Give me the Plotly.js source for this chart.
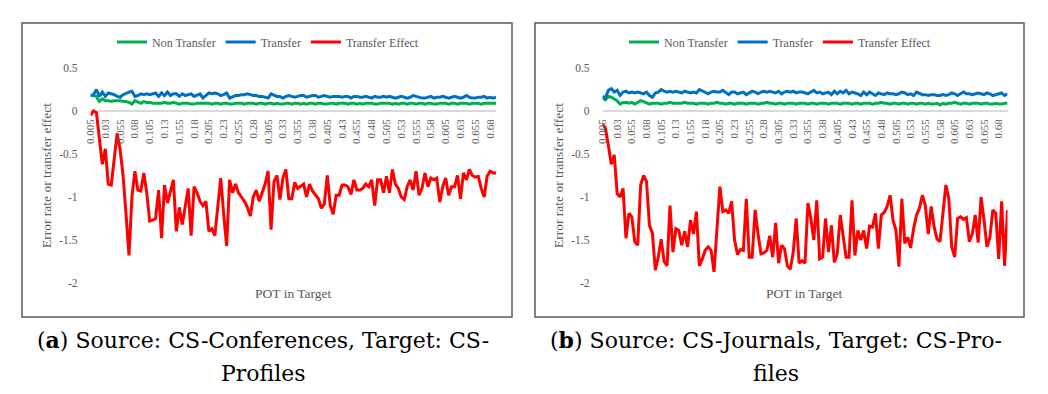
<!DOCTYPE html>
<html>
<head>
<meta charset="utf-8">
<script src="https://cdn.plot.ly/plotly-3.0.1.min.js"></script>
<style>html,body{margin:0;padding:0;background:#fff;}#chart{width:1048px;height:394px;}</style>
</head>
<body>
<div id="chart"></div>
<script>
// POT in Target categories
const potCategories = [
"0.005","0.01","0.015","0.02","0.025","0.03","0.035","0.04","0.045","0.05",
"0.055","0.06","0.065","0.07","0.075","0.08","0.085","0.09","0.095","0.1",
"0.105","0.11","0.115","0.12","0.125","0.13","0.135","0.14","0.145","0.15",
"0.155","0.16","0.165","0.17","0.175","0.18","0.185","0.19","0.195","0.2",
"0.205","0.21","0.215","0.22","0.225","0.23","0.235","0.24","0.245","0.25",
"0.255","0.26","0.265","0.27","0.275","0.28","0.285","0.29","0.295","0.3",
"0.305","0.31","0.315","0.32","0.325","0.33","0.335","0.34","0.345","0.35",
"0.355","0.36","0.365","0.37","0.375","0.38","0.385","0.39","0.395","0.4",
"0.405","0.41","0.415","0.42","0.425","0.43","0.435","0.44","0.445","0.45",
"0.455","0.46","0.465","0.47","0.475","0.48","0.485","0.49","0.495","0.5",
"0.505","0.51","0.515","0.52","0.525","0.53","0.535","0.54","0.545","0.55",
"0.555","0.56","0.565","0.57","0.575","0.58","0.585","0.59","0.595","0.6",
"0.605","0.61","0.615","0.62","0.625","0.63","0.635","0.64","0.645","0.65",
"0.655","0.66","0.665","0.67","0.675","0.68","0.685","0.69","0.695"];

// Panel (a): Source CS-Conferences, Target CS-Profiles
const aNonTransfer = [
0.18,0.18,0.17,0.11,0.14,0.12,0.12,0.11,0.12,0.12,
0.12,0.11,0.11,0.10,0.08,0.12,0.10,0.09,0.11,0.10,
0.10,0.09,0.09,0.09,0.09,0.10,0.09,0.09,0.10,0.09,
0.08,0.09,0.09,0.09,0.08,0.08,0.09,0.09,0.09,0.09,
0.09,0.08,0.09,0.09,0.08,0.09,0.09,0.08,0.08,0.09,
0.09,0.09,0.08,0.09,0.09,0.09,0.08,0.09,0.09,0.08,
0.09,0.09,0.08,0.09,0.08,0.08,0.09,0.09,0.08,0.09,
0.09,0.08,0.09,0.08,0.09,0.09,0.08,0.09,0.09,0.08,
0.08,0.09,0.09,0.08,0.09,0.09,0.09,0.08,0.09,0.09,
0.08,0.09,0.08,0.09,0.09,0.09,0.08,0.08,0.09,0.09,
0.09,0.09,0.08,0.09,0.08,0.09,0.09,0.08,0.09,0.09,
0.08,0.09,0.09,0.08,0.09,0.09,0.08,0.08,0.09,0.09,
0.09,0.08,0.09,0.09,0.08,0.09,0.09,0.09,0.08,0.09,
0.09,0.09,0.08,0.09,0.09,0.09,0.09,0.09];
const aTransfer = [
0.18,0.19,0.25,0.17,0.22,0.17,0.21,0.20,0.19,0.17,
0.16,0.19,0.21,0.22,0.23,0.17,0.18,0.20,0.19,0.20,
0.19,0.20,0.21,0.17,0.21,0.18,0.22,0.18,0.20,0.20,
0.17,0.20,0.18,0.19,0.20,0.17,0.19,0.20,0.15,0.18,
0.21,0.20,0.21,0.20,0.18,0.19,0.21,0.15,0.17,0.18,
0.18,0.19,0.19,0.20,0.19,0.18,0.18,0.17,0.17,0.16,
0.15,0.20,0.18,0.17,0.17,0.15,0.17,0.18,0.17,0.16,
0.17,0.18,0.18,0.16,0.17,0.18,0.18,0.16,0.17,0.18,
0.17,0.16,0.17,0.17,0.17,0.16,0.17,0.17,0.15,0.17,
0.17,0.16,0.16,0.17,0.16,0.15,0.17,0.16,0.16,0.17,
0.16,0.17,0.16,0.15,0.16,0.17,0.16,0.15,0.16,0.18,
0.17,0.16,0.15,0.15,0.16,0.17,0.15,0.16,0.16,0.17,
0.16,0.15,0.16,0.17,0.16,0.15,0.16,0.18,0.16,0.15,
0.15,0.16,0.16,0.17,0.15,0.16,0.15,0.16];
const aTransferEffect = [
-0.05,0.00,-0.02,-0.30,-0.62,-0.44,-0.85,-0.86,-0.55,-0.26,
-0.45,-0.75,-1.20,-1.68,-1.00,-0.70,-0.92,-0.93,-0.72,-0.95,
-1.28,-1.27,-1.25,-0.92,-1.48,-0.86,-1.07,-0.93,-0.80,-1.40,
-1.12,-1.32,-1.10,-0.90,-1.45,-0.88,-0.95,-1.05,-1.10,-1.05,
-1.40,-1.37,-1.45,-1.10,-0.78,-1.20,-1.57,-0.80,-0.95,-0.85,
-0.95,-1.00,-1.05,-1.12,-1.22,-1.00,-0.92,-1.05,-0.95,-0.85,
-0.70,-1.38,-0.82,-0.75,-1.03,-0.78,-0.68,-1.02,-1.02,-0.83,
-0.90,-0.87,-0.85,-1.00,-0.85,-0.93,-0.97,-1.02,-1.13,-1.08,
-0.75,-1.10,-1.20,-0.98,-0.98,-0.86,-0.86,-0.88,-0.97,-0.80,
-0.92,-0.92,-0.90,-0.85,-0.88,-0.80,-1.10,-0.80,-0.80,-0.95,
-0.76,-0.95,-0.68,-0.85,-0.90,-1.00,-1.03,-0.88,-0.80,-0.92,
-0.70,-0.98,-0.90,-0.72,-0.88,-0.78,-0.80,-0.78,-1.06,-0.88,
-0.78,-0.98,-0.88,-0.88,-0.75,-1.02,-0.72,-0.80,-0.68,-0.75,
-0.77,-0.76,-0.90,-1.00,-0.76,-0.70,-0.72,-0.72];

// Panel (b): Source CS-Journals, Target CS-Profiles
const bNonTransfer = [
0.15,0.13,0.17,0.16,0.14,0.12,0.08,0.10,0.10,0.09,
0.10,0.08,0.10,0.12,0.11,0.09,0.08,0.09,0.09,0.09,
0.08,0.09,0.09,0.10,0.09,0.09,0.09,0.09,0.10,0.09,
0.09,0.09,0.08,0.09,0.09,0.09,0.08,0.09,0.09,0.10,
0.09,0.09,0.08,0.09,0.09,0.08,0.09,0.09,0.09,0.08,
0.09,0.09,0.09,0.08,0.09,0.09,0.10,0.09,0.09,0.08,
0.09,0.09,0.08,0.09,0.09,0.09,0.08,0.09,0.09,0.09,
0.08,0.09,0.09,0.08,0.09,0.09,0.09,0.08,0.09,0.09,
0.09,0.08,0.09,0.09,0.09,0.08,0.09,0.09,0.08,0.09,
0.09,0.09,0.08,0.09,0.09,0.10,0.09,0.09,0.08,0.09,
0.09,0.08,0.09,0.09,0.08,0.09,0.09,0.08,0.09,0.09,
0.08,0.09,0.08,0.08,0.09,0.07,0.09,0.08,0.09,0.09,
0.10,0.09,0.08,0.09,0.09,0.08,0.09,0.09,0.09,0.08,
0.09,0.09,0.08,0.08,0.09,0.08,0.08,0.09,0.09];
const bTransfer = [
0.17,0.15,0.24,0.26,0.22,0.24,0.18,0.22,0.23,0.21,
0.22,0.21,0.22,0.21,0.20,0.22,0.18,0.16,0.21,0.22,
0.25,0.23,0.22,0.23,0.22,0.23,0.22,0.21,0.23,0.22,
0.21,0.22,0.21,0.25,0.23,0.22,0.20,0.22,0.23,0.22,
0.22,0.24,0.21,0.19,0.22,0.22,0.20,0.21,0.22,0.19,
0.21,0.23,0.22,0.20,0.22,0.23,0.22,0.23,0.22,0.21,
0.23,0.20,0.22,0.23,0.22,0.23,0.21,0.22,0.22,0.21,
0.20,0.22,0.24,0.21,0.22,0.20,0.21,0.22,0.19,0.23,
0.20,0.23,0.21,0.24,0.20,0.22,0.21,0.20,0.18,0.22,
0.19,0.22,0.20,0.18,0.21,0.20,0.19,0.21,0.20,0.20,
0.19,0.20,0.22,0.21,0.19,0.20,0.18,0.22,0.20,0.19,
0.19,0.18,0.19,0.19,0.18,0.18,0.19,0.18,0.19,0.21,
0.20,0.18,0.20,0.22,0.20,0.20,0.19,0.20,0.21,0.20,
0.19,0.21,0.20,0.18,0.19,0.20,0.21,0.18,0.20];
const bTransferEffect = [
-0.15,-0.20,-0.40,-0.62,-0.51,-0.96,-1.00,-0.90,-1.48,-1.19,
-1.23,-1.52,-1.56,-0.86,-0.75,-0.82,-1.33,-1.42,-1.85,-1.70,
-1.49,-1.75,-1.80,-1.10,-1.64,-1.37,-1.39,-1.56,-1.40,-1.58,
-1.27,-1.43,-1.17,-1.80,-1.72,-1.62,-1.58,-1.62,-1.87,-1.39,
-0.88,-1.17,-1.15,-1.19,-1.05,-1.50,-1.67,-1.61,-1.62,-1.02,
-1.70,-1.70,-1.15,-1.43,-1.66,-1.65,-1.62,-1.45,-1.70,-1.30,
-1.77,-1.56,-1.60,-1.80,-1.84,-1.64,-1.25,-1.77,-1.74,-1.77,
-1.07,-1.25,-1.50,-1.04,-1.72,-1.70,-1.25,-1.64,-1.33,-1.76,
-1.66,-1.21,-1.49,-1.70,-1.70,-1.04,-1.68,-1.39,-1.50,-1.39,
-1.60,-1.34,-1.35,-1.19,-1.60,-1.21,-1.18,-1.11,-0.98,-1.27,
-1.39,-1.81,-1.02,-1.54,-1.47,-1.59,-1.37,-1.21,-1.13,-0.98,
-1.10,-1.43,-1.11,-1.35,-1.49,-1.52,-1.19,-0.86,-1.02,-1.58,
-1.70,-1.25,-1.23,-1.26,-1.24,-1.52,-1.43,-1.21,-1.53,-1.00,
-1.27,-1.58,-1.47,-1.15,-1.19,-1.72,-1.05,-1.80,-1.15];

const seriesNames = ["Non Transfer","Transfer","Transfer Effect"];
const seriesColors = ["#00b050","#0070c0","#ff0000"];
const yTickVals = [-2,-1.5,-1,-0.5,0,0.5];
const yTickText = ["-2","-1.5","-1","-0.5","0","0.5"];
const captionA = ["(<b>a</b>) Source: CS-Conferences, Target: CS-","Profiles"];
const captionB = ["(<b>b</b>) Source: CS-Journals, Target: CS-Pro-","files"];

const W = 1048, H = 394;
const px = v => v / W;
const py = v => 1 - v / H;
const SERIF = "'Liberation Serif', 'DejaVu Serif', serif";
const CAPTION_FONT = "'DejaVu Serif', 'Liberation Serif', serif";
const GRAY = "#595959";

function mkTraces(sets, xa, ya, leg) {
  return sets.map((vals, k) => ({
    type: "scatter", mode: "lines",
    x: potCategories.slice(0, vals.length), y: vals,
    name: seriesNames[k], xaxis: xa, yaxis: ya, legend: leg,
    line: {color: seriesColors[k], width: 3}
  }));
}

const data = [
  ...mkTraces([aNonTransfer, aTransfer, aTransferEffect], "x", "y", "legend"),
  ...mkTraces([bNonTransfer, bTransfer, bTransferEffect], "x2", "y2", "legend2")
];

const yDomain = [py(283), py(68)];
const zeroPos = py(111);

function xAxis(n, dom) {
  return {
    type: "category", domain: dom, range: [0, n - 1],
    anchor: "free", position: zeroPos,
    tickvals: potCategories.slice(0, n).filter((c, i) => i % 5 === 0),
    tickangle: -90, showgrid: false, zeroline: false, showline: false,
    ticks: "", ticklabelstandoff: 5, tickfont: {family: SERIF, size: 11, color: GRAY},
    automargin: false, fixedrange: true
  };
}
function yAxis(anchor) {
  return {
    domain: yDomain, range: [-2, 0.5], anchor: anchor,
    tickvals: yTickVals, ticktext: yTickText,
    showgrid: false, zeroline: true, zerolinecolor: "#d9d9d9", zerolinewidth: 1.5,
    showline: false, ticks: "", ticklabelstandoff: 12,
    tickfont: {family: SERIF, size: 11.5, color: GRAY},
    title: {text: "Error rate or transfer effect", standoff: 4,
            font: {family: SERIF, size: 13.5, color: GRAY}},
    automargin: false, fixedrange: true
  };
}

const legendCommon = {
  orientation: "h", xanchor: "center", yanchor: "middle", y: py(42),
  font: {family: SERIF, size: 12, color: GRAY}, bgcolor: "rgba(0,0,0,0)",
  itemwidth: 30, traceorder: "normal"
};

function caption(lines, cx) {
  return lines.map((t, i) => ({
    text: t, xref: "paper", yref: "paper", x: px(cx), y: py(i === 0 ? 340 : 373),
    xanchor: "center", yanchor: "middle", showarrow: false,
    font: {family: CAPTION_FONT, size: 22, color: "#000"}
  }));
}

const layout = {
  width: W, height: H, margin: {l: 0, r: 0, t: 0, b: 0},
  font: {family: SERIF},
  paper_bgcolor: "#fff", plot_bgcolor: "rgba(0,0,0,0)", showlegend: true,
  xaxis: xAxis(aTransferEffect.length, [px(90.5), px(496)]),
  yaxis: yAxis("x"),
  xaxis2: xAxis(bTransferEffect.length, [px(602.5), px(1007.5)]),
  yaxis2: yAxis("x2"),
  legend: Object.assign({x: px(268)}, legendCommon),
  legend2: Object.assign({x: px(780)}, legendCommon),
  shapes: [
    {type: "rect", xref: "paper", yref: "paper", x0: px(22), x1: px(512), y0: py(317), y1: py(23),
     line: {color: "#595959", width: 1.5}},
    {type: "rect", xref: "paper", yref: "paper", x0: px(535), x1: px(1024), y0: py(317), y1: py(23),
     line: {color: "#595959", width: 1.5}}
  ],
  annotations: [
    {text: "POT in Target", xref: "paper", yref: "paper", x: px(293), y: py(293),
     xanchor: "center", yanchor: "middle", showarrow: false,
     font: {family: SERIF, size: 13.5, color: GRAY}},
    {text: "POT in Target", xref: "paper", yref: "paper", x: px(804), y: py(293),
     xanchor: "center", yanchor: "middle", showarrow: false,
     font: {family: SERIF, size: 13.5, color: GRAY}},
    ...caption(captionA, 263),
    ...caption(captionB, 776)
  ]
};

Plotly.newPlot("chart", data, layout, {displayModeBar: false, staticPlot: true});
</script>
</body>
</html>
